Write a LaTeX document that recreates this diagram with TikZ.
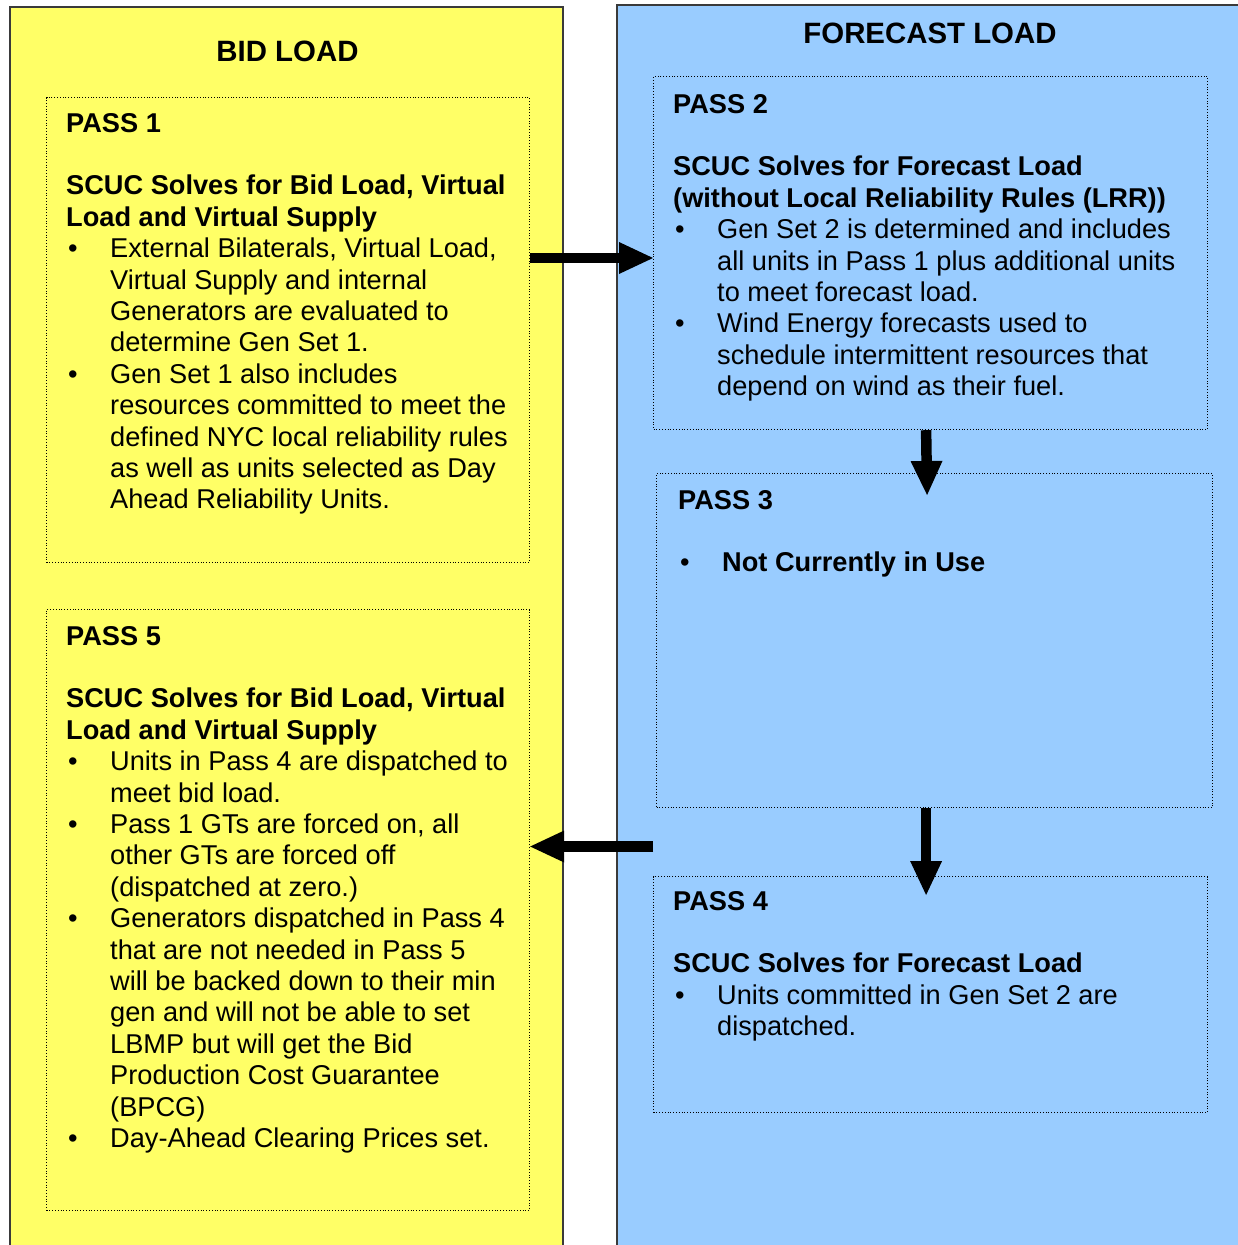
\documentclass[tikz,border=0pt]{standalone}
\usepackage{fontspec}
\setmainfont{Liberation Sans}
\usetikzlibrary{arrows.meta}
\definecolor{bidyellow}{HTML}{FFFF66}
\definecolor{fcblue}{HTML}{99CCFF}
\definecolor{colborder}{HTML}{3A3A3A}
\newcommand{\bodysz}{\fontsize{27.2pt}{31.4pt}\selectfont}
\newcommand{\blt}{\par\noindent\hangindent=44pt\hangafter=1\makebox[44pt][l]{\hspace{2pt}\textbullet}}
\newcommand{\blank}{\par\mbox{}\par}
\newcommand{\txtbox}[2]{\parbox[t]{#1}{\bodysz\parindent=0pt\parskip=0pt #2}}
\tikzset{
  column/.style={draw=colborder, line width=1.5pt},
  passbox/.style={draw=black, line width=1.2pt, dash pattern=on 1pt off 1.8pt, anchor=north west, inner sep=0pt},
  passtext/.style={anchor=base west, inner sep=0pt},
  title/.style={anchor=base, inner sep=0pt, font=\fontsize{29.4pt}{34pt}\selectfont\bfseries},
  bigarrow/.style={line width=10.5pt, -{Triangle[length=34pt,width=32pt,line width=0pt]}},
}
\begin{document}
\begin{tikzpicture}[x=1pt,y=-1pt]
\useasboundingbox (0,0) rectangle (1238,1245);
\clip (0,0) rectangle (1238,1245);
% columns
\path[column, fill=bidyellow] (10,7) rectangle (563,1270);
\path[column, fill=fcblue] (617,5) rectangle (1260,1270);
% titles
\node[title] (tbid) at (287.5,61) {BID LOAD};
\node[title] (tfc) at (930,43) {FORECAST LOAD};
% dotted pass boxes
\node[passbox, minimum width=483pt, minimum height=465pt] (p1) at (46,97) {};
\node[passbox, minimum width=483pt, minimum height=601pt] (p5) at (46,609) {};
\node[passbox, minimum width=554pt, minimum height=353pt] (p2) at (653,76) {};
\node[passbox, minimum width=556pt, minimum height=334pt] (p3) at (656,473) {};
\node[passbox, minimum width=554pt, minimum height=236pt] (p4) at (653,876) {};
% texts
\node[passtext] (t1) at (66,132) {\txtbox{470pt}{%
\textbf{PASS 1}\blank
\textbf{SCUC Solves for Bid Load, Virtual}\\\textbf{Load and Virtual Supply}
\blt External Bilaterals, Virtual Load,\\Virtual Supply and internal\\Generators are evaluated to\\determine Gen Set 1.
\blt Gen Set 1 also includes\\resources committed to meet the\\defined NYC local reliability rules\\as well as units selected as Day\\Ahead Reliability Units.\par}};
\node[passtext] (t5) at (66,645) {\txtbox{470pt}{%
\textbf{PASS 5}\blank
\textbf{SCUC Solves for Bid Load, Virtual}\\\textbf{Load and Virtual Supply}
\blt Units in Pass 4 are dispatched to\\meet bid load.
\blt Pass 1 GTs are forced on, all\\other GTs are forced off\\(dispatched at zero.)
\blt Generators dispatched in Pass 4\\that are not needed in Pass 5\\will be backed down to their min\\gen and will not be able to set\\LBMP but will get the Bid\\Production Cost Guarantee\\(BPCG)
\blt Day-Ahead Clearing Prices set.\par}};
\node[passtext] (t2) at (673,113) {\txtbox{540pt}{%
\textbf{PASS 2}\blank
\textbf{SCUC Solves for Forecast Load}\\\textbf{(without Local Reliability Rules (LRR))}
\blt Gen Set 2 is determined and includes\\all units in Pass 1 plus additional units\\to meet forecast load.
\blt Wind Energy forecasts used to\\schedule intermittent resources that\\depend on wind as their fuel.\par}};
\node[passtext] (t3) at (678,509) {\txtbox{530pt}{%
\textbf{PASS 3}\blank
\blt \textbf{Not Currently in Use}\par}};
\node[passtext] (t4) at (673,910) {\txtbox{540pt}{%
\textbf{PASS 4}\blank
\textbf{SCUC Solves for Forecast Load}
\blt Units committed in Gen Set 2 are\\dispatched.\par}};
% arrows
\coordinate (ra) at (0,258);
\coordinate (la) at (0,846.5);
\draw[bigarrow] (p1.east |- ra) -- (p2.west |- ra);
\draw[bigarrow] ([xshift=-4.5pt]p2.south) -- ([xshift=-7.5pt,yshift=-22pt]p3.north);
\draw[bigarrow] ([xshift=-8.5pt]p3.south) -- ([xshift=-4.5pt,yshift=-19pt]p4.north);
\draw[bigarrow] (p4.west |- la) -- (p5.east |- la);
\end{tikzpicture}
\end{document}
